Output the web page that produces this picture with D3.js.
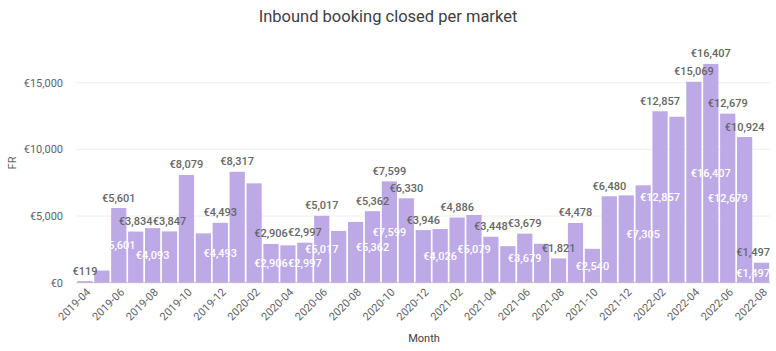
<!DOCTYPE html>
<html>
<head>
<meta charset="utf-8">
<script src="https://cdn.jsdelivr.net/npm/d3@7"></script>
<style>
  body { margin: 0; background: #fff; }
  svg { display: block; font-family: Roboto, "Noto Sans", sans-serif; }
</style>
</head>
<body>
<svg id="chart" width="776" height="351"></svg>
<script>
const months = ["2019-04","2019-05","2019-06","2019-07","2019-08","2019-09","2019-10","2019-11","2019-12",
  "2020-01","2020-02","2020-03","2020-04","2020-05","2020-06","2020-07","2020-08","2020-09","2020-10","2020-11","2020-12",
  "2021-01","2021-02","2021-03","2021-04","2021-05","2021-06","2021-07","2021-08","2021-09","2021-10","2021-11","2021-12",
  "2022-01","2022-02","2022-03","2022-04","2022-05","2022-06","2022-07","2022-08"];
const values = [119, 910, 5601, 3834, 4093, 3847, 8079, 3700, 4493,
  8317, 7450, 2906, 2800, 2997, 5017, 3880, 4560, 5362, 7599, 6330, 3946,
  4026, 4886, 5079, 3448, 2740, 3679, 2920, 1821, 4478, 2540, 6480, 6550,
  7305, 12857, 12450, 15069, 16407, 12679, 10924, 1497];
// which bars carry the outside (grey) label and the inside (white) label
const outsideLabel = [1,0,1,1,0,1,1,0,1, 1,0,1,0,1,1,0,0,1,1,1,1, 0,1,0,1,0,1,0,1,1,0,1,0, 0,1,0,1,1,1,1,1];
const insideLabel  = [0,0,1,0,1,0,0,0,1, 0,0,1,0,1,1,0,0,1,1,0,0, 1,0,1,0,0,1,0,0,0,1,0,0, 1,1,0,0,1,1,0,1];
const yTicks = [0, 5000, 10000, 15000];
const xTickLabels = months.filter((m, i) => i % 2 === 0);

const svg = d3.select("#chart");
const left = 76.5, right = 770, zeroY = 282.7, topY = 82.7;

const x = d3.scaleBand().domain(months).range([left, right]).paddingInner(0.1).paddingOuter(0.05);
const y = d3.scaleLinear().domain([0, 15000]).range([zeroY, topY]);
const fmt = v => "€" + d3.format(",")(v);

// title
svg.append("text").attr("x", 388).attr("y", 22).attr("text-anchor", "middle")
  .attr("font-size", 16.5).attr("fill", "#3c4043").text("Inbound booking closed per market");

// gridlines
svg.append("g").selectAll("line").data(yTicks).join("line")
  .attr("x1", left).attr("x2", right)
  .attr("y1", d => y(d)).attr("y2", d => y(d))
  .attr("stroke", d => d === 0 ? "#c8c8c8" : "#eeeeee").attr("stroke-width", 1);

// y axis labels
const yAxis = d3.axisLeft(y).tickValues(yTicks).tickFormat(fmt).tickSize(0).tickPadding(0);
const gy = svg.append("g").attr("transform", `translate(63,0)`).call(yAxis);
gy.select(".domain").remove();
gy.selectAll("text").attr("font-size", 11).attr("fill", "#5f6368").attr("font-family", "Roboto, sans-serif");

svg.append("text").attr("transform", "translate(16,163) rotate(-90)").attr("text-anchor", "middle")
  .attr("font-size", 11).attr("fill", "#5f6368").text("FR");

// bars
svg.append("g").selectAll("rect").data(values).join("rect")
  .attr("x", (d, i) => x(months[i]))
  .attr("width", x.bandwidth())
  .attr("y", d => y(d))
  .attr("height", d => zeroY - y(d))
  .attr("fill", "#bca9e6");

// x axis
const xAxis = d3.axisBottom(x).tickValues(xTickLabels).tickSize(0).tickPadding(0);
const gx = svg.append("g").attr("transform", `translate(0,${zeroY + 7})`).call(xAxis);
gx.select(".domain").remove();
gx.selectAll("text").attr("font-size", 11).attr("fill", "#5f6368").attr("font-family", "Roboto, sans-serif")
  .attr("text-anchor", "end").attr("dy", "0.6em").attr("dx", "0.2em")
  .attr("transform", "rotate(-45)");

svg.append("text").attr("x", 424).attr("y", 342).attr("text-anchor", "middle")
  .attr("font-size", 11).attr("fill", "#3c4043").text("Month");

// labels
function placeClamped(sel) {
  sel.each(function(d) {
    const w = this.getComputedTextLength();
    let cx = x(months[d.i]) + x.bandwidth() / 2;
    cx = Math.min(cx, right - w / 2);
    d3.select(this).attr("x", cx);
  });
}
const labelData = values.map((v, i) => ({v, i}));

svg.append("g").selectAll("text").data(labelData.filter(d => insideLabel[d.i])).join("text")
  .attr("text-anchor", "middle").attr("font-size", 11).attr("font-weight", 500)
  .attr("fill", "#ffffff")
  .attr("y", d => (y(d.v) + zeroY) / 2 + 4)
  .text(d => fmt(d.v))
  .call(placeClamped);

svg.append("g").selectAll("text").data(labelData.filter(d => outsideLabel[d.i])).join("text")
  .attr("text-anchor", "middle").attr("font-size", 11).attr("font-weight", 500)
  .attr("fill", "#666666")
  .attr("y", d => y(d.v) - 6.5)
  .text(d => fmt(d.v))
  .call(placeClamped);
</script>
</body>
</html>
